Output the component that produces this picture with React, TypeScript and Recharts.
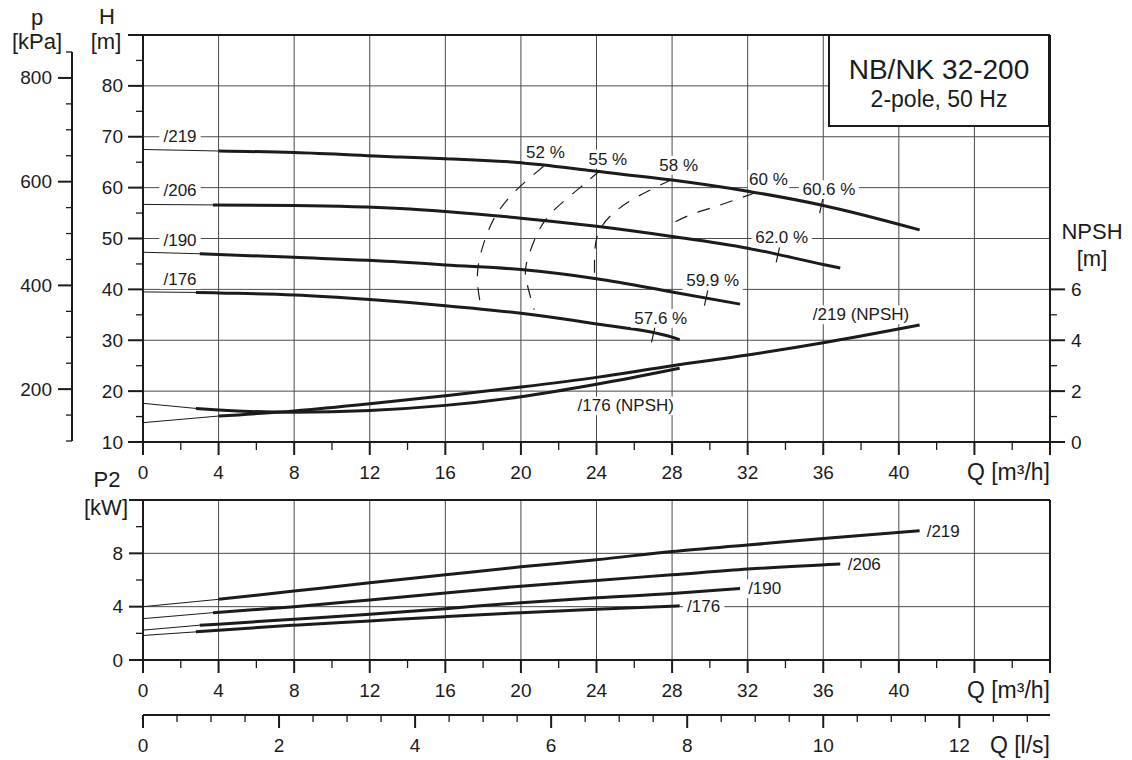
import React from 'react'
import {
  ComposedChart,
  Line,
  XAxis,
  YAxis,
  CartesianGrid,
  ReferenceLine,
  ReferenceDot,
} from 'recharts'

const INK = '#1b1b1b'
const GRID = '#4a4a4a'
const FONT = "'Liberation Sans', Arial, Helvetica, sans-serif"

// ---- axes ----
const qTicks = [0, 2, 4, 6, 8, 10, 12, 14, 16, 18, 20, 22, 24, 26, 28, 30, 32, 34, 36, 38, 40, 42, 44, 46, 48]
const qGrid = [4, 8, 12, 16, 20, 24, 28, 32, 36, 40, 44]
const hTicks = [10, 15, 20, 25, 30, 35, 40, 45, 50, 55, 60, 65, 70, 75, 80, 85, 90]
const hGrid = [20, 30, 40, 50, 60, 70, 80]
const npshTicks = [0, 1, 2, 3, 4, 5, 6]
const pTicks = [100, 150, 200, 250, 300, 350, 400, 450, 500, 550, 600, 650, 700, 750, 800, 850]
const p2Ticks = [0, 2, 4, 6, 8, 10, 12]
const p2Grid = [4, 8]
const lsMax = 48 / 3.6
const lsTicks = [0, 0.5, 1, 1.5, 2, 2.5, 3, 3.5, 4, 4.5, 5, 5.5, 6, 6.5, 7, 7.5, 8, 8.5, 9, 9.5, 10, 10.5, 11, 11.5, 12, 12.5, 13, lsMax]

// ---- Q-H curves [m3/h, m]; first point = thin extension back to Q=0 ----
const q219 = [0, 4, 8, 13.6, 16, 20, 24, 28, 32, 36, 41.1]
const h219 = [67.5, 67.2, 66.9, 66.0, 65.7, 64.9, 63.2, 61.5, 59.3, 56.5, 51.7]
const q206 = [0, 3.7, 8, 13.6, 16, 20, 24, 28, 32, 36, 36.9]
const h206 = [56.7, 56.6, 56.5, 55.9, 55.3, 54.0, 52.4, 50.4, 48.1, 44.9, 44.2]
const q190 = [0, 3.0, 8, 13.6, 16, 20, 24, 28, 31.6]
const h190 = [47.3, 47.0, 46.3, 45.4, 44.8, 43.9, 42.1, 39.5, 37.1]
const q176 = [0, 2.8, 4, 8, 12, 16, 20, 24, 28, 28.4]
const h176 = [39.5, 39.4, 39.3, 38.9, 38.0, 36.8, 35.3, 33.2, 30.6, 30.1]

// ---- NPSH curves [m3/h, m] ----
const qNpsh219 = [0, 4, 8, 12, 16, 20, 24, 28, 32, 36, 41.1]
const npsh219 = [0.76, 1.02, 1.22, 1.5, 1.82, 2.16, 2.54, 3.0, 3.42, 3.9, 4.6]
const qNpsh176 = [0, 2.8, 4, 8, 12, 16, 20, 24, 28, 28.4]
const npsh176 = [1.52, 1.32, 1.26, 1.17, 1.24, 1.44, 1.78, 2.27, 2.84, 2.9]

// ---- P2 curves [m3/h, kW] ----
const qP219 = [0, 4, 8, 12, 16, 20, 24, 28, 32, 36, 41.1]
const p219 = [4.0, 4.55, 5.17, 5.79, 6.39, 6.99, 7.52, 8.14, 8.62, 9.12, 9.7]
const qP206 = [0, 3.7, 8, 12, 16, 20, 24, 28, 32, 36.9]
const p206 = [3.1, 3.55, 4.0, 4.5, 5.02, 5.54, 5.97, 6.39, 6.82, 7.2]
const qP190 = [0, 3.0, 4, 8, 12, 16, 20, 24, 28, 31.6]
const p190 = [2.24, 2.61, 2.69, 3.06, 3.43, 3.85, 4.3, 4.67, 4.98, 5.36]
const qP176 = [0, 2.8, 4, 8, 12, 16, 20, 24, 28.4]
const p176 = [1.84, 2.11, 2.24, 2.61, 2.93, 3.25, 3.55, 3.8, 4.06]

// ---- iso-efficiency curves [m3/h, m] ----
const qE52 = [21.2, 19.7, 18.7, 18.1, 17.7, 17.9]
const hE52 = [64.2, 59.3, 54.7, 49.8, 43.2, 36.3]
const qE55 = [24.2, 23.0, 21.6, 20.8, 20.3, 20.3, 20.7]
const hE55 = [63.4, 59.6, 55.0, 50.4, 45.2, 41.5, 36.0]
const qE58 = [28.0, 26.2, 24.9, 24.1, 23.9, 23.9]
const hE58 = [61.6, 58.3, 55.0, 51.1, 46.5, 42.2]
const qE60 = [32.4, 30.4, 29.0, 27.7]
const hE60 = [59.0, 56.4, 54.7, 52.4]

// best efficiency marks on the Q-H curves
const bepQ = [35.9, 33.6, 29.8, 27.0]
const bepH = [56.5, 46.8, 38.3, 31.1]

// labels
const effText = ['52 %', '55 %', '58 %', '60 %', '60.6 %', '62.0 %', '59.9 %', '57.6 %']
const effQ = [21.3, 24.6, 28.35, 33.1, 36.3, 33.8, 30.15, 27.4]
const effH = [66.9, 65.6, 64.4, 61.6, 59.6, 50.1, 41.7, 34.3]
const impText = ['/219', '/206', '/190', '/176']
const impQ = 1.96
const impH = [70, 59.4, 49.6, 41.9]
const npshText = ['/219 (NPSH)', '/176 (NPSH)']
const npshLabelQ = [38.0, 25.55]
const npshLabelH = [35.0, 17.1]
const p2LabelQ = [42.35, 38.17, 32.9, 29.67]
const p2LabelP = [9.65, 7.16, 5.34, 3.98]

type Curve = { name: string; q: number[]; v: number[] }
const headCurves: Curve[] = [
  { name: 'h219', q: q219, v: h219 },
  { name: 'h206', q: q206, v: h206 },
  { name: 'h190', q: q190, v: h190 },
  { name: 'h176', q: q176, v: h176 },
]
const npshCurves: Curve[] = [
  { name: 'n219', q: qNpsh219, v: npsh219 },
  { name: 'n176', q: qNpsh176, v: npsh176 },
]
const powerCurves: Curve[] = [
  { name: 'p219', q: qP219, v: p219 },
  { name: 'p206', q: qP206, v: p206 },
  { name: 'p190', q: qP190, v: p190 },
  { name: 'p176', q: qP176, v: p176 },
]
const effCurves: Curve[] = [
  { name: 'e52', q: qE52, v: hE52 },
  { name: 'e55', q: qE55, v: hE55 },
  { name: 'e58', q: qE58, v: hE58 },
  { name: 'e60', q: qE60, v: hE60 },
]

const pts = (q: number[], v: number[]) => q.map((x, i) => ({ q: x, v: v[i] }))

function curveLines(c: Curve, yAxisId?: string) {
  return [
    <Line
      key={c.name + '-thin'}
      data={pts(c.q.slice(0, 2), c.v.slice(0, 2))}
      dataKey="v"
      yAxisId={yAxisId}
      type="linear"
      stroke={INK}
      strokeWidth={1}
      dot={false}
      activeDot={false}
      isAnimationActive={false}
    />,
    <Line
      key={c.name + '-thick'}
      data={pts(c.q.slice(1), c.v.slice(1))}
      dataKey="v"
      yAxisId={yAxisId}
      type="monotone"
      stroke={INK}
      strokeWidth={3}
      dot={false}
      activeDot={false}
      isAnimationActive={false}
    />,
  ]
}

function tag(text: string, size: number, bg = true) {
  return (p: any) => {
    const w = text.length * size * 0.55
    return (
      <g>
        {bg && <rect x={p.cx - w / 2 - 2} y={p.cy - size * 0.55} width={w + 4} height={size * 1.1} fill="#fff" />}
        <text x={p.cx} y={p.cy} textAnchor="middle" dominantBaseline="central" fontSize={size} fill={INK}>
          {text}
        </text>
      </g>
    )
  }
}

const isStep = (v: number, step: number) => Math.abs(v / step - Math.round(v / step)) < 1e-6

function leftTick(step: number, maxLabel: number, majorLen: number, minorLen: number) {
  return (props: any) => {
    const { x, y, payload } = props
    const v = Number(payload.value)
    const major = isStep(v, step)
    return (
      <g>
        <line x1={x - (major ? majorLen : minorLen)} x2={x} y1={y} y2={y} stroke={INK} strokeWidth={major ? 2 : 1.3} />
        {major && v <= maxLabel && (
          <text x={x - 20} y={y} textAnchor="end" dominantBaseline="central" fontSize={19} fill={INK}>
            {v}
          </text>
        )}
      </g>
    )
  }
}

function NpshTick(props: any) {
  const { x, y, payload } = props
  const v = Number(payload.value)
  const major = isStep(v, 2)
  return (
    <g>
      <line x1={x} x2={x + (major ? 15 : 7)} y1={y} y2={y} stroke={INK} strokeWidth={major ? 2 : 1.3} />
      {major && (
        <text x={x + 21} y={y} textAnchor="start" dominantBaseline="central" fontSize={19} fill={INK}>
          {v}
        </text>
      )}
    </g>
  )
}

function QTick(props: any) {
  const { x, y, payload } = props
  const v = Number(payload.value)
  const major = isStep(v, 4)
  return (
    <g>
      <line x1={x} x2={x} y1={y} y2={y + (major ? 13 : 8)} stroke={INK} strokeWidth={major ? 2 : 1.3} />
      {major && v <= 40 && (
        <text x={x} y={y + 30} textAnchor="middle" dominantBaseline="central" fontSize={19} fill={INK}>
          {v}
        </text>
      )}
      {v === 48 && (
        <text x={x} y={y + 30} textAnchor="end" dominantBaseline="central" fontSize={23} fill={INK}>
          Q [m³/h]
        </text>
      )}
    </g>
  )
}

function LsTick(props: any) {
  const { x, y, payload } = props
  const v = Number(payload.value)
  if (v > 13.2) {
    return (
      <text x={x} y={y + 30} textAnchor="end" dominantBaseline="central" fontSize={23} fill={INK}>
        Q [l/s]
      </text>
    )
  }
  const major = isStep(v, 2)
  return (
    <g>
      <line x1={x} x2={x} y1={y} y2={y + (major ? 13 : 7)} stroke={INK} strokeWidth={major ? 2 : 1.3} />
      {major && (
        <text x={x} y={y + 30} textAnchor="middle" dominantBaseline="central" fontSize={19} fill={INK}>
          {v}
        </text>
      )}
    </g>
  )
}

const axisLine = { stroke: INK, strokeWidth: 2 }

// invisible series that only keeps a secondary scale alive
function scaleHolder(xs: number[], ys: number[], xAxisId?: string, yAxisId?: string) {
  return (
    <Line
      data={pts(xs, ys)}
      dataKey="v"
      xAxisId={xAxisId}
      yAxisId={yAxisId}
      stroke="none"
      dot={false}
      activeDot={false}
      legendType="none"
      isAnimationActive={false}
    />
  )
}

function Title({ x, y, size = 22, children }: { x: number; y: number; size?: number; children: React.ReactNode }) {
  return (
    <div
      style={{
        position: 'absolute',
        left: x,
        top: y,
        transform: 'translate(-50%, -50%)',
        fontSize: size,
        lineHeight: 1,
        whiteSpace: 'nowrap',
      }}
    >
      {children}
    </div>
  )
}

export default function App() {
  return (
    <div
      style={{
        position: 'absolute',
        left: 0,
        top: 0,
        width: 1132,
        height: 760,
        background: '#fff',
        fontFamily: FONT,
        color: INK,
        overflow: 'hidden',
      }}
    >
      {/* pressure scale */}
      <div style={{ position: 'absolute', left: 0, top: 0 }}>
        <ComposedChart width={100} height={490} margin={{ top: 52, right: 0, bottom: 49, left: 0 }}>
          <XAxis type="number" dataKey="q" domain={[0, 1]} hide />
          <YAxis
            yAxisId="p"
            type="number"
            domain={[100, 850]}
            ticks={pTicks}
            interval={0}
            width={72}
            axisLine={axisLine}
            tickLine={false}
            tickSize={0}
            tickMargin={0}
            tick={leftTick(200, 800, 14, 6)}
          />
          {scaleHolder([0, 1], [pTicks[0], pTicks[pTicks.length - 1]], undefined, 'p')}
        </ComposedChart>
      </div>

      {/* head / NPSH panel */}
      <div style={{ position: 'absolute', left: 0, top: 0 }}>
        <ComposedChart width={1132} height={490} margin={{ top: 35, right: 0, bottom: 0, left: 0 }}>
          <CartesianGrid
            yAxisId="h"
            stroke={GRID}
            strokeWidth={1}
            horizontalValues={hGrid}
            verticalValues={qGrid}
          />
          <XAxis
            type="number"
            dataKey="q"
            domain={[0, 48]}
            ticks={qTicks}
            interval={0}
            height={48}
            axisLine={axisLine}
            tickLine={false}
            tickSize={0}
            tickMargin={0}
            tick={QTick}
          />
          <YAxis
            yAxisId="h"
            type="number"
            domain={[10, 90]}
            ticks={hTicks}
            interval={0}
            width={143}
            axisLine={axisLine}
            tickLine={false}
            tickSize={0}
            tickMargin={0}
            tick={leftTick(10, 80, 15, 7)}
          />
          <YAxis
            yAxisId="npsh"
            orientation="right"
            type="number"
            domain={[0, 16]}
            ticks={npshTicks}
            interval={0}
            width={82}
            axisLine={axisLine}
            tickLine={false}
            tickSize={0}
            tickMargin={0}
            tick={NpshTick}
          />
          <ReferenceLine yAxisId="h" y={90} stroke={INK} strokeWidth={2} />
          {effCurves.map((c) => (
            <Line
              key={c.name}
              data={pts(c.q, c.v)}
              dataKey="v"
              yAxisId="h"
              type="natural"
              stroke={INK}
              strokeWidth={1.2}
              strokeDasharray="13 11"
              dot={false}
              activeDot={false}
              isAnimationActive={false}
            />
          ))}
          {headCurves.flatMap((c) => curveLines(c, 'h'))}
          {npshCurves.flatMap((c) => curveLines(c, 'npsh'))}
          {bepQ.map((q, i) => (
            <ReferenceLine
              key={'bep' + i}
              yAxisId="h"
              segment={[
                { x: q - 0.09, y: bepH[i] - 1.5 },
                { x: q + 0.09, y: bepH[i] + 1.5 },
              ]}
              stroke={INK}
              strokeWidth={1.2}
            />
          ))}
          {effText.map((t, i) => (
            <ReferenceDot key={t} yAxisId="h" x={effQ[i]} y={effH[i]} r={0} shape={tag(t, 17)} />
          ))}
          {impText.map((t, i) => (
            <ReferenceDot key={'imp' + t} yAxisId="h" x={impQ} y={impH[i]} r={0} shape={tag(t, 17)} />
          ))}
          {npshText.map((t, i) => (
            <ReferenceDot key={t} yAxisId="h" x={npshLabelQ[i]} y={npshLabelH[i]} r={0} shape={tag(t, 17)} />
          ))}
        </ComposedChart>
      </div>

      {/* power panel */}
      <div style={{ position: 'absolute', left: 0, top: 480 }}>
        <ComposedChart width={1132} height={280} margin={{ top: 20, right: 82, bottom: 0, left: 0 }}>
          <CartesianGrid stroke={GRID} strokeWidth={1} horizontalValues={p2Grid} verticalValues={qGrid} />
          <XAxis
            type="number"
            dataKey="q"
            domain={[0, 48]}
            ticks={qTicks}
            interval={0}
            height={55}
            axisLine={axisLine}
            tickLine={false}
            tickSize={0}
            tickMargin={0}
            tick={QTick}
          />
          <XAxis
            xAxisId="ls"
            type="number"
            dataKey="q"
            domain={[0, lsMax]}
            ticks={lsTicks}
            interval={0}
            height={45}
            axisLine={axisLine}
            tickLine={false}
            tickSize={0}
            tickMargin={0}
            tick={LsTick}
          />
          <YAxis
            type="number"
            domain={[0, 12]}
            ticks={p2Ticks}
            interval={0}
            width={143}
            axisLine={axisLine}
            tickLine={false}
            tickSize={0}
            tickMargin={0}
            tick={leftTick(4, 8, 14, 7)}
          />
          <ReferenceLine y={12} stroke={INK} strokeWidth={2} />
          <ReferenceLine x={48} stroke={INK} strokeWidth={2} />
          {powerCurves.flatMap((c) => curveLines(c))}
          {scaleHolder([0, lsMax], [0, 0], 'ls')}
          {impText.map((t, i) => (
            <ReferenceDot key={'p2' + t} x={p2LabelQ[i]} y={p2LabelP[i]} r={0} shape={tag(t, 17)} />
          ))}
        </ComposedChart>
      </div>

      {/* axis titles */}
      <Title x={37} y={18}>p</Title>
      <Title x={37} y={42}>[kPa]</Title>
      <Title x={107} y={17}>H</Title>
      <Title x={106} y={42}>[m]</Title>
      <Title x={1092} y={232}>NPSH</Title>
      <Title x={1092} y={259}>[m]</Title>
      <Title x={107} y={480}>P2</Title>
      <Title x={106} y={508}>[kW]</Title>

      {/* pump title box */}
      <div
        style={{
          position: 'absolute',
          left: 828,
          top: 34,
          width: 222,
          height: 93,
          boxSizing: 'border-box',
          border: `2px solid ${INK}`,
          background: '#fff',
        }}
      />
      <Title x={939} y={70} size={28}>NB/NK 32-200</Title>
      <Title x={939} y={99} size={23}>2-pole, 50 Hz</Title>
    </div>
  )
}
